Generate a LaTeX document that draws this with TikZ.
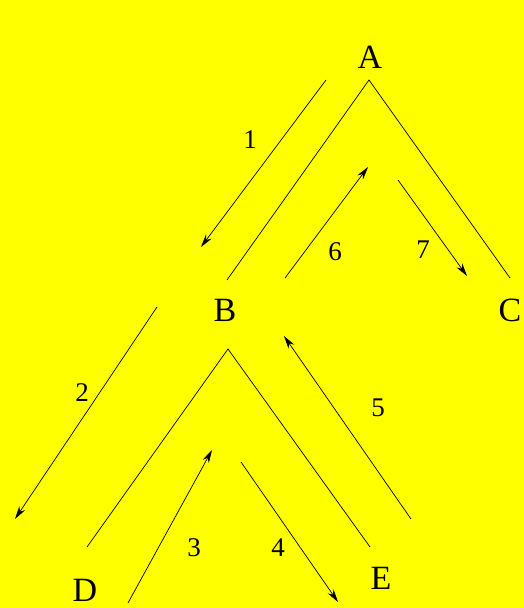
\documentclass[tikz,border=0pt]{standalone}
\usepackage{fontspec}
\setmainfont{Liberation Serif}
\usepackage{xcolor}
\usetikzlibrary{arrows.meta}
\definecolor{bgyellow}{RGB}{255,255,0}

\begin{document}
\begin{tikzpicture}[x=1pt,y=-1pt,line width=0.7pt,>={Stealth[length=13pt,width=7pt]},
  letter/.style={font=\fontsize{34}{36}\selectfont,inner sep=0pt},
  num/.style={font=\fontsize{27}{30}\selectfont,inner sep=0pt}]
\fill[bgyellow] (0,0) rectangle (524,608);
\useasboundingbox (0,0) rectangle (524,608);
% tree labels
\node[letter] (A) at (370,57) {A};
\node[letter] (B) at (225,310) {B};
\node[letter] (C) at (510,310) {C};
\node[letter] (D) at (85,590) {D};
\node[letter] (E) at (381,578) {E};
% edge ends of the tree
\coordinate (topA) at (369,80);
\coordinate (ab) at (227,280);
\coordinate (ac) at (510,278);
\coordinate (topB) at (228,349);
\coordinate (bd) at (87,547);
\coordinate (be) at (370,547);
\draw (ab) -- (topA) -- (ac);
\draw (bd) -- (topB) -- (be);
% traversal steps
\coordinate (s1) at (326,80);  \coordinate (t1) at (201,247);
\coordinate (s2) at (157,307); \coordinate (t2) at (15,519);
\coordinate (s3) at (128,603); \coordinate (t3) at (212,450);
\coordinate (s4) at (241,462); \coordinate (t4) at (338,602);
\coordinate (s5) at (411,519); \coordinate (t5) at (284,336);
\coordinate (s6) at (285,278); \coordinate (t6) at (368,167);
\coordinate (s7) at (398,180); \coordinate (t7) at (467,276);
\draw[->] (s1) -- (t1);
\draw[->] (s2) -- (t2);
\draw[->] (s3) -- (t3);
\draw[->] (s4) -- (t4);
\draw[->] (s5) -- (t5);
\draw[->] (s6) -- (t6);
\draw[->] (s7) -- (t7);
\node[num] (n1) at (250,140) {1};
\node[num] (n2) at (82,393) {2};
\node[num] (n3) at (194,548) {3};
\node[num] (n4) at (278,548) {4};
\node[num] (n5) at (378,408) {5};
\node[num] (n6) at (335,252) {6};
\node[num] (n7) at (423,250) {7};
\end{tikzpicture}
\end{document}
